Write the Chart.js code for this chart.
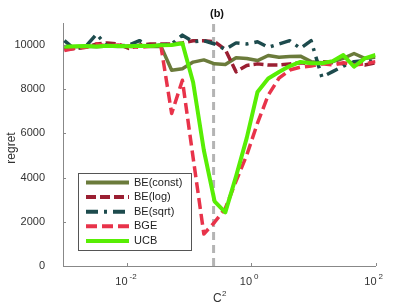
<!DOCTYPE html>
<html>
<head>
<meta charset="utf-8">
<script src="https://cdn.jsdelivr.net/npm/chart.js@4.4.0/dist/chart.umd.min.js"></script>
<style>
  html, body { margin: 0; padding: 0; background: #fff; }
  #wrap { width: 415px; height: 307px; }
</style>
</head>
<body>
<div id="wrap"><canvas id="grafica" width="415" height="307"></canvas></div>
<script>
// --- Datos --------------------------------------------------------------------
const valoresC2 = [0.001, 0.001488, 0.002212, 0.00329, 0.004894, 0.007279, 0.010826, 0.016103,
  0.02395, 0.035622, 0.052983, 0.078805, 0.11721, 0.174333, 0.259294, 0.385662, 0.573615,
  0.853168, 1.268961, 1.887392, 2.807216, 4.175319, 6.210169, 9.236709, 13.738238, 20.433597,
  30.391954, 45.203537, 67.233575, 100];

const beConst = [9900, 9930, 9950, 9920, 9960, 9940, 9950, 9960, 9940, 9950,
  8860, 8930, 9230, 9330, 9150, 9120, 9430, 9390, 9300, 9530,
  9450, 9480, 9500, 9250, 9200, 9250, 9400, 9620, 9400, 9450];
const beLog = [9800, 9850, 9900, 10050, 10100, 10050, 9850, 10000, 10050, 10050,
  10050, 10100, 10200, 10200, 10150, 9800, 8790, 9080, 9150, 9100,
  9100, 9150, 9200, 9150, 9250, 9200, 9150, 9200, 9100, 9200];
const beSqrt = [10200, 9800, 9950, 10500, 9950, 9950, 10000, 10200, 9950, 10000,
  10050, 10450, 10150, 10200, 10050, 9800, 10100, 10050, 10150, 9900,
  10050, 10200, 9850, 10200, 8550, 8800, 9050, 9250, 9300, 9250];
const bge = [9750, 9850, 9900, 10050, 9950, 10000, 9950, 9900, 9950, 9950,
  6900, 8410, 4900, 1450, 1980, 2610, 3840, 5020, 6470, 7730,
  8500, 8870, 9000, 9050, 9150, 9100, 9200, 9100, 9150, 9250];
const ucb = [9930, 9950, 9960, 9940, 9970, 9960, 9950, 9970, 9960, 9990,
  10000, 10080, 8320, 5240, 2930, 2430, 4060, 5800, 7880, 8490,
  8780, 9050, 9240, 9180, 9180, 9270, 9550, 9020, 9400, 9550];

const marcaC2 = 0.25;               // línea vertical gris
const ticksX = [0.01, 1, 100];
const expX = ['-2', '0', '2'];
const ticksY = [0, 2000, 4000, 6000, 8000, 10000];

const series = [
  { label: 'BE(const)', data: beConst, color: '#6b7b3b', dash: [] },
  { label: 'BE(log)', data: beLog, color: '#9b1f32', dash: [10, 4] },
  { label: 'BE(sqrt)', data: beSqrt, color: '#1d4b4d', dash: [12, 6, 3, 6] },
  { label: 'BGE', data: bge, color: '#e8334a', dash: [11, 5] },
  { label: 'UCB', data: ucb, color: '#58ee04', dash: [] },
];

const FUENTE = '"Liberation Sans", Arial, sans-serif';

const puntos = (ys) => ys.map((y, i) => ({ x: valoresC2[i], y }));

const datasets = series.map((s, i) => ({
  label: s.label,
  data: puntos(s.data),
  borderColor: s.color,
  backgroundColor: s.color,
  borderDash: s.dash,
  borderWidth: s.label === 'UCB' ? 4 : 3.5,
  pointRadius: 0,
  borderJoinStyle: 'round',
  tension: 0,
  order: series.length - i,
}));

datasets.push({
  label: 'marca',
  data: [{ x: marcaC2, y: 0 }, { x: marcaC2, y: 11000 }],
  borderColor: '#b4b4b4',
  borderWidth: 3,
  borderDash: [8, 5],
  pointRadius: 0,
  order: 10,
});

// --- Textos, marcas de eje y leyenda --------------------------------------------
const extras = {
  id: 'extras',
  afterDraw(chart) {
    const ctx = chart.ctx;
    const { left, bottom } = chart.chartArea;
    const sx = chart.scales.x;
    const sy = chart.scales.y;
    ctx.save();

    // marcas hacia dentro
    ctx.strokeStyle = '#888';
    ctx.lineWidth = 1;
    ctx.beginPath();
    ticksY.forEach((v) => {
      const y = Math.round(sy.getPixelForValue(v)) + 0.5;
      ctx.moveTo(left, y); ctx.lineTo(left + 3, y);
    });
    ticksX.forEach((v) => {
      const x = Math.round(sx.getPixelForValue(v)) + 0.5;
      ctx.moveTo(x, bottom); ctx.lineTo(x, bottom - 3);
    });
    ctx.stroke();

    // etiquetas del eje x (10 con exponente)
    ctx.fillStyle = '#333';
    ctx.textBaseline = 'middle';
    ticksX.forEach((v, i) => {
      const x = sx.getPixelForValue(v);
      ctx.font = '11px ' + FUENTE;
      ctx.textAlign = 'right';
      ctx.fillText('10', x + 1, 282);
      ctx.font = '8px ' + FUENTE;
      ctx.textAlign = 'left';
      ctx.fillText(expX[i], x + 3, 277);
    });

    // título del eje x: C²
    ctx.font = '12px ' + FUENTE;
    ctx.textAlign = 'left';
    ctx.fillText('C', 213, 299);
    ctx.font = '8px ' + FUENTE;
    ctx.fillText('2', 222, 294);

    // título del eje y
    ctx.save();
    ctx.translate(12, 148);
    ctx.rotate(-Math.PI / 2);
    ctx.font = '12px ' + FUENTE;
    ctx.textAlign = 'center';
    ctx.fillText('regret', 0, 0);
    ctx.restore();

    // título
    ctx.font = 'bold 11px ' + FUENTE;
    ctx.textAlign = 'center';
    ctx.fillStyle = '#111';
    ctx.fillText('(b)', 217, 13.5);

    // leyenda
    ctx.fillStyle = '#fff';
    ctx.fillRect(78.5, 173.5, 113, 77);
    ctx.strokeStyle = '#555';
    ctx.lineWidth = 1;
    ctx.setLineDash([]);
    ctx.strokeRect(78.5, 173.5, 113, 77);
    series.forEach((s, i) => {
      const y = 182.5 + i * 14.6;
      ctx.strokeStyle = s.color;
      ctx.lineWidth = 4;
      ctx.setLineDash(s.dash);
      ctx.beginPath();
      ctx.moveTo(86, y); ctx.lineTo(129, y);
      ctx.stroke();
      ctx.setLineDash([]);
      ctx.fillStyle = '#222';
      ctx.font = '11px ' + FUENTE;
      ctx.textAlign = 'left';
      ctx.fillText(s.label, 134, y);
    });
    ctx.restore();
  },
};

new Chart(document.querySelector('#grafica'), {
  type: 'line',
  data: { datasets },
  options: {
    responsive: false,
    animation: false,
    layout: { padding: { left: 0, right: 39.5, top: 23, bottom: 0 } },
    plugins: { legend: { display: false }, tooltip: { enabled: false } },
    scales: {
      x: {
        type: 'logarithmic',
        min: 0.00095,
        max: 100,
        afterBuildTicks: (s) => { s.ticks = ticksX.map((v) => ({ value: v })); },
        afterFit: (s) => { s.height = 41; },
        ticks: { display: false },
        grid: { display: false },
        border: { display: true, color: '#888', width: 1 },
      },
      y: {
        min: 0,
        max: 11000,
        afterBuildTicks: (s) => { s.ticks = ticksY.map((v) => ({ value: v })); },
        afterFit: (s) => { s.width = 63; },
        ticks: {
          color: '#333',
          padding: 10,
          font: { family: FUENTE, size: 11 },
          callback: (v) => String(v),
        },
        grid: { display: false },
        border: { display: true, color: '#888', width: 1 },
      },
    },
  },
  plugins: [extras],
});
</script>
</body>
</html>
